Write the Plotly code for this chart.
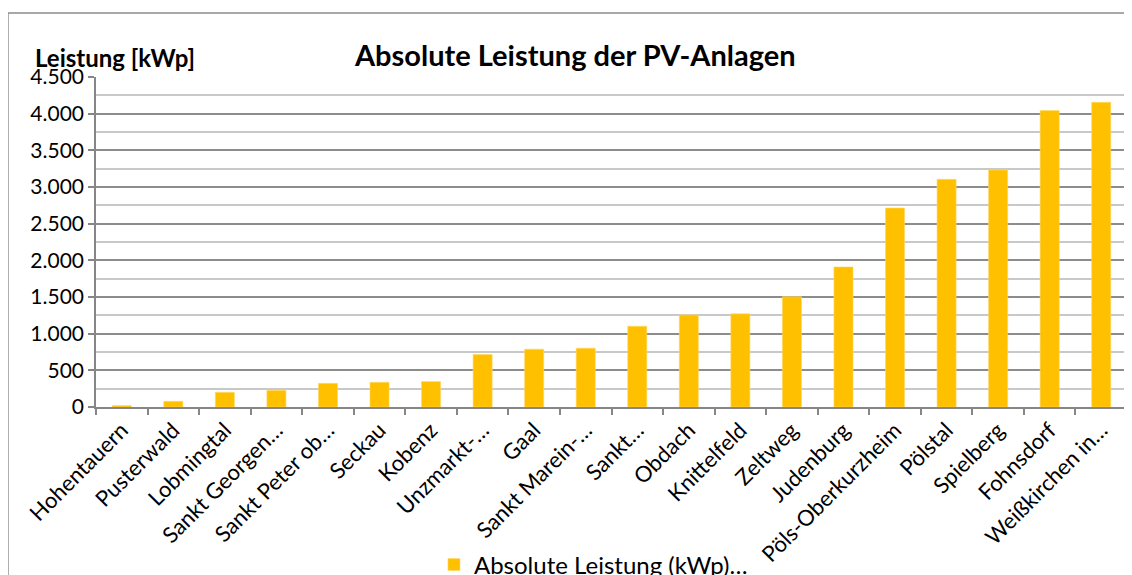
import plotly.graph_objects as go

categories = ["Hohentauern", "Pusterwald", "Lobmingtal", "Sankt Georgen…", "Sankt Peter ob…",
              "Seckau", "Kobenz", "Unzmarkt-…", "Gaal", "Sankt Marein-…", "Sankt…", "Obdach",
              "Knittelfeld", "Zeltweg", "Judenburg", "Pöls-Oberkurzheim", "Pölstal", "Spielberg",
              "Fohnsdorf", "Weißkirchen in…"]
values = [20, 78, 200, 228, 323, 337, 347, 716, 788, 802, 1101, 1256, 1270, 1505, 1910,
          2713, 3105, 3232, 4042, 4155]
series_name = "Absolute Leistung (kWp)…"
y_ticks = [0, 500, 1000, 1500, 2000, 2500, 3000, 3500, 4000, 4500]

FONT = "Lato"

fig = go.Figure()
fig.add_trace(go.Bar(
    x=categories, y=values, name=series_name,
    marker=dict(color="#FFC000", line=dict(color="#FFD966", width=0.6)),
    showlegend=True,
))

fig.update_layout(
    width=1132, height=575,
    margin=dict(l=88, r=13, t=69, b=176, autoexpand=False),
    paper_bgcolor="white", plot_bgcolor="white",
    separators=",.",
    bargap=0.63,
    font=dict(family=FONT, size=21, color="#000000"),
    showlegend=True,
    legend=dict(orientation="h", xref="container", yref="container",
                x=0.3763, xanchor="left", y=0.0313, yanchor="middle",
                font=dict(family=FONT, size=24, color="#000000"), bgcolor="rgba(0,0,0,0)"),
    xaxis=dict(
        type="category", tickangle=-45, showline=True, linecolor="#868686", linewidth=1.5,
        ticks="outside", tickson="boundaries", ticklen=6, tickcolor="#868686", tickwidth=1.5,
        showgrid=False, automargin=False, tickfont=dict(family=FONT, size=22, color="#000000"),
    ),
    yaxis=dict(
        range=[0, 4500], tickvals=y_ticks, tickformat=",d", showline=True, linecolor="#868686",
        linewidth=1.5, ticks="outside", ticklen=6, tickcolor="#868686", tickwidth=1.5,
        showgrid=True, gridcolor="#8c8c8c", gridwidth=1.5, zeroline=False, automargin=False,
        tickfont=dict(family=FONT, size=21, color="#000000"),
        minor=dict(dtick=250, showgrid=True, gridcolor="#c8c8c8", gridwidth=1.5),
    ),
    annotations=[
        dict(text="<b>Absolute Leistung der PV-Anlagen</b>", xref="paper", yref="paper",
             x=0.4646, y=1.067, xanchor="center", yanchor="middle", showarrow=False,
             font=dict(family=FONT, size=29, color="#000000")),
        dict(text="<b>Leistung [kWp]</b>", xref="paper", yref="paper",
             x=-0.061, y=1.058, xanchor="left", yanchor="middle", showarrow=False,
             font=dict(family=FONT, size=24, color="#000000")),
    ],
    shapes=[
        dict(type="rect", xref="paper", yref="paper", x0=-0.0854, y0=-1.0, x1=1.2, y1=1.194,
             line=dict(color="#8c8c8c", width=1.5), fillcolor="rgba(0,0,0,0)", layer="below"),
    ],
)

fig.write_html("out.html")
